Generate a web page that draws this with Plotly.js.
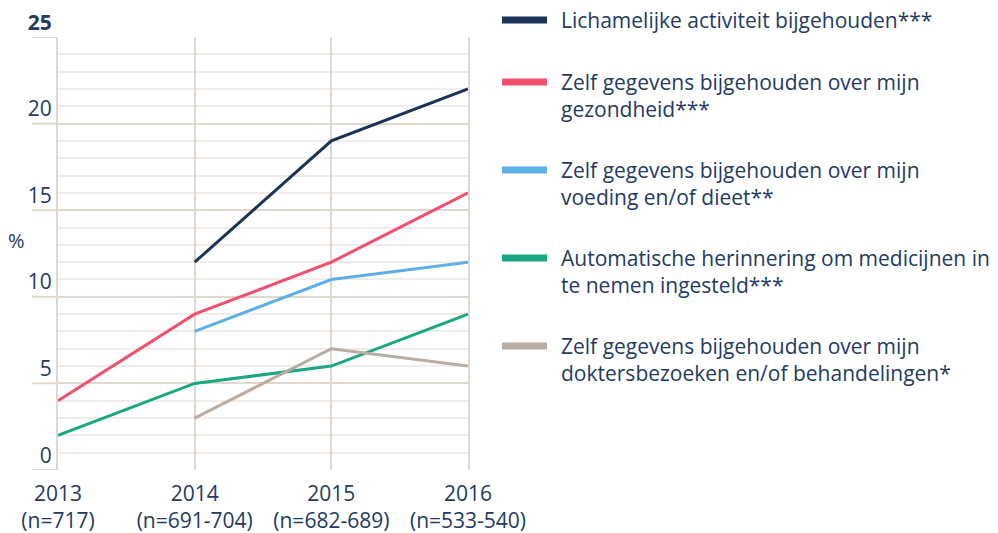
<!DOCTYPE html>
<html><head><meta charset="utf-8">
<script src="https://cdn.plot.ly/plotly-3.0.1.min.js"></script>
<style>html,body{margin:0;padding:0;background:#fff}#chart{width:998px;height:533px}</style>
</head><body><div id="chart"></div>
<script>
// ---- data ----
const years = [2013, 2014, 2015, 2016];
const yearLabels = ["2013<br>(n=717)", "2014<br>(n=691-704)", "2015<br>(n=682-689)", "2016<br>(n=533-540)"];
const seriesNames = [
  "Lichamelijke activiteit bijgehouden***",
  "Zelf gegevens bijgehouden over mijn<br>gezondheid***",
  "Zelf gegevens bijgehouden over mijn<br>voeding en/of dieet**",
  "Automatische herinnering om medicijnen in<br>te nemen ingesteld***",
  "Zelf gegevens bijgehouden over mijn<br>doktersbezoeken en/of behandelingen*"
];
const activiteit = [null, 12, 19, 22];
const gezondheid = [4, 9, 12, 16];
const voeding = [null, 8, 11, 12];
const herinnering = [2, 5, 6, 9];
const doktersbezoeken = [null, 3, 7, 6];
const yTickVals = [0, 5, 10, 15, 20, 25];
const yTickText = ["0", "5", "10", "15", "20", "<b>25</b>"];
const yMinorVals = [1, 2, 3, 4, 6, 7, 8, 9, 11, 12, 13, 14, 16, 17, 18, 19, 21, 22, 23, 24];

// ---- style ----
const colors = ["#1b3358", "#f0506e", "#5cb0e6", "#1aa882", "#b8aca3"];
const seriesValues = [activiteit, gezondheid, voeding, herinnering, doktersbezoeken];
const textColor = "#233b63";
const majorGrid = "#e0d7ce", minorGrid = "#f1ecea";
const FONT = "Open Sans, sans-serif";
const FS = 21;
const W = 998, H = 533, ML = 58, MR = 530, MT = 37, MB = 63;
const PW = W - ML - MR, PH = H - MT - MB;
const px = x => (x - ML) / PW;
const py = y => (H - MB - y) / PH;

const traces = seriesValues.map((v, i) => ({
  x: years, y: v, type: "scatter", mode: "lines", name: seriesNames[i],
  line: {color: colors[i], width: 3}, connectgaps: false, showlegend: false, hoverinfo: "skip"
}));

const shapes = [];
const annotations = [];
// major tick extensions to the left
yTickVals.forEach(v => shapes.push({type: "line", xref: "paper", yref: "y", x0: px(32), x1: 0, y0: v, y1: v,
  line: {color: majorGrid, width: 2}, layer: "below"}));
// legend
const legTop = [20, 82, 170, 258, 346];
seriesNames.forEach((n, i) => {
  shapes.push({type: "line", xref: "paper", yref: "paper", x0: px(502), x1: px(547), y0: py(legTop[i]), y1: py(legTop[i]),
    line: {color: colors[i], width: 7}});
  n.split("<br>").forEach((t, j) => annotations.push({xref: "paper", yref: "paper", x: px(559), y: py(legTop[i] + j * 27),
    xanchor: "left", yanchor: "middle", showarrow: false, text: t, font: {family: FONT, size: FS, color: textColor}}));
});
annotations.push({xref: "paper", yref: "paper", x: px(16), y: py(240), xanchor: "center", yanchor: "middle",
  showarrow: false, text: "%", font: {family: FONT, size: FS - 1, color: textColor}});

const layout = {
  width: W, height: H, margin: {l: ML, r: MR, t: MT, b: MB, pad: 0},
  paper_bgcolor: "#fff", plot_bgcolor: "#fff",
  font: {family: FONT, size: FS, color: textColor},
  xaxis: {range: [2013, 2016], tickvals: years, ticktext: yearLabels, showgrid: true, gridcolor: majorGrid, gridwidth: 2,
    zeroline: false, showline: false, ticks: "", ticklabelstandoff: 9, tickfont: {size: FS, color: textColor}, fixedrange: true},
  yaxis: {range: [0, 25], tickvals: yTickVals, ticktext: yTickText, showgrid: true, gridcolor: majorGrid, gridwidth: 2,
    showline: true, mirror: true, linecolor: majorGrid, linewidth: 2,
    zeroline: false, ticks: "", ticklabelposition: "outside top", ticklabelstandoff: 0, tickfont: {size: FS, color: textColor},
    minor: {tickvals: yMinorVals, showgrid: true, gridcolor: minorGrid, gridwidth: 2}, fixedrange: true},
  shapes: shapes, annotations: annotations, showlegend: false
};
Plotly.newPlot("chart", traces, layout, {displayModeBar: false, staticPlot: true});
</script></body></html>
